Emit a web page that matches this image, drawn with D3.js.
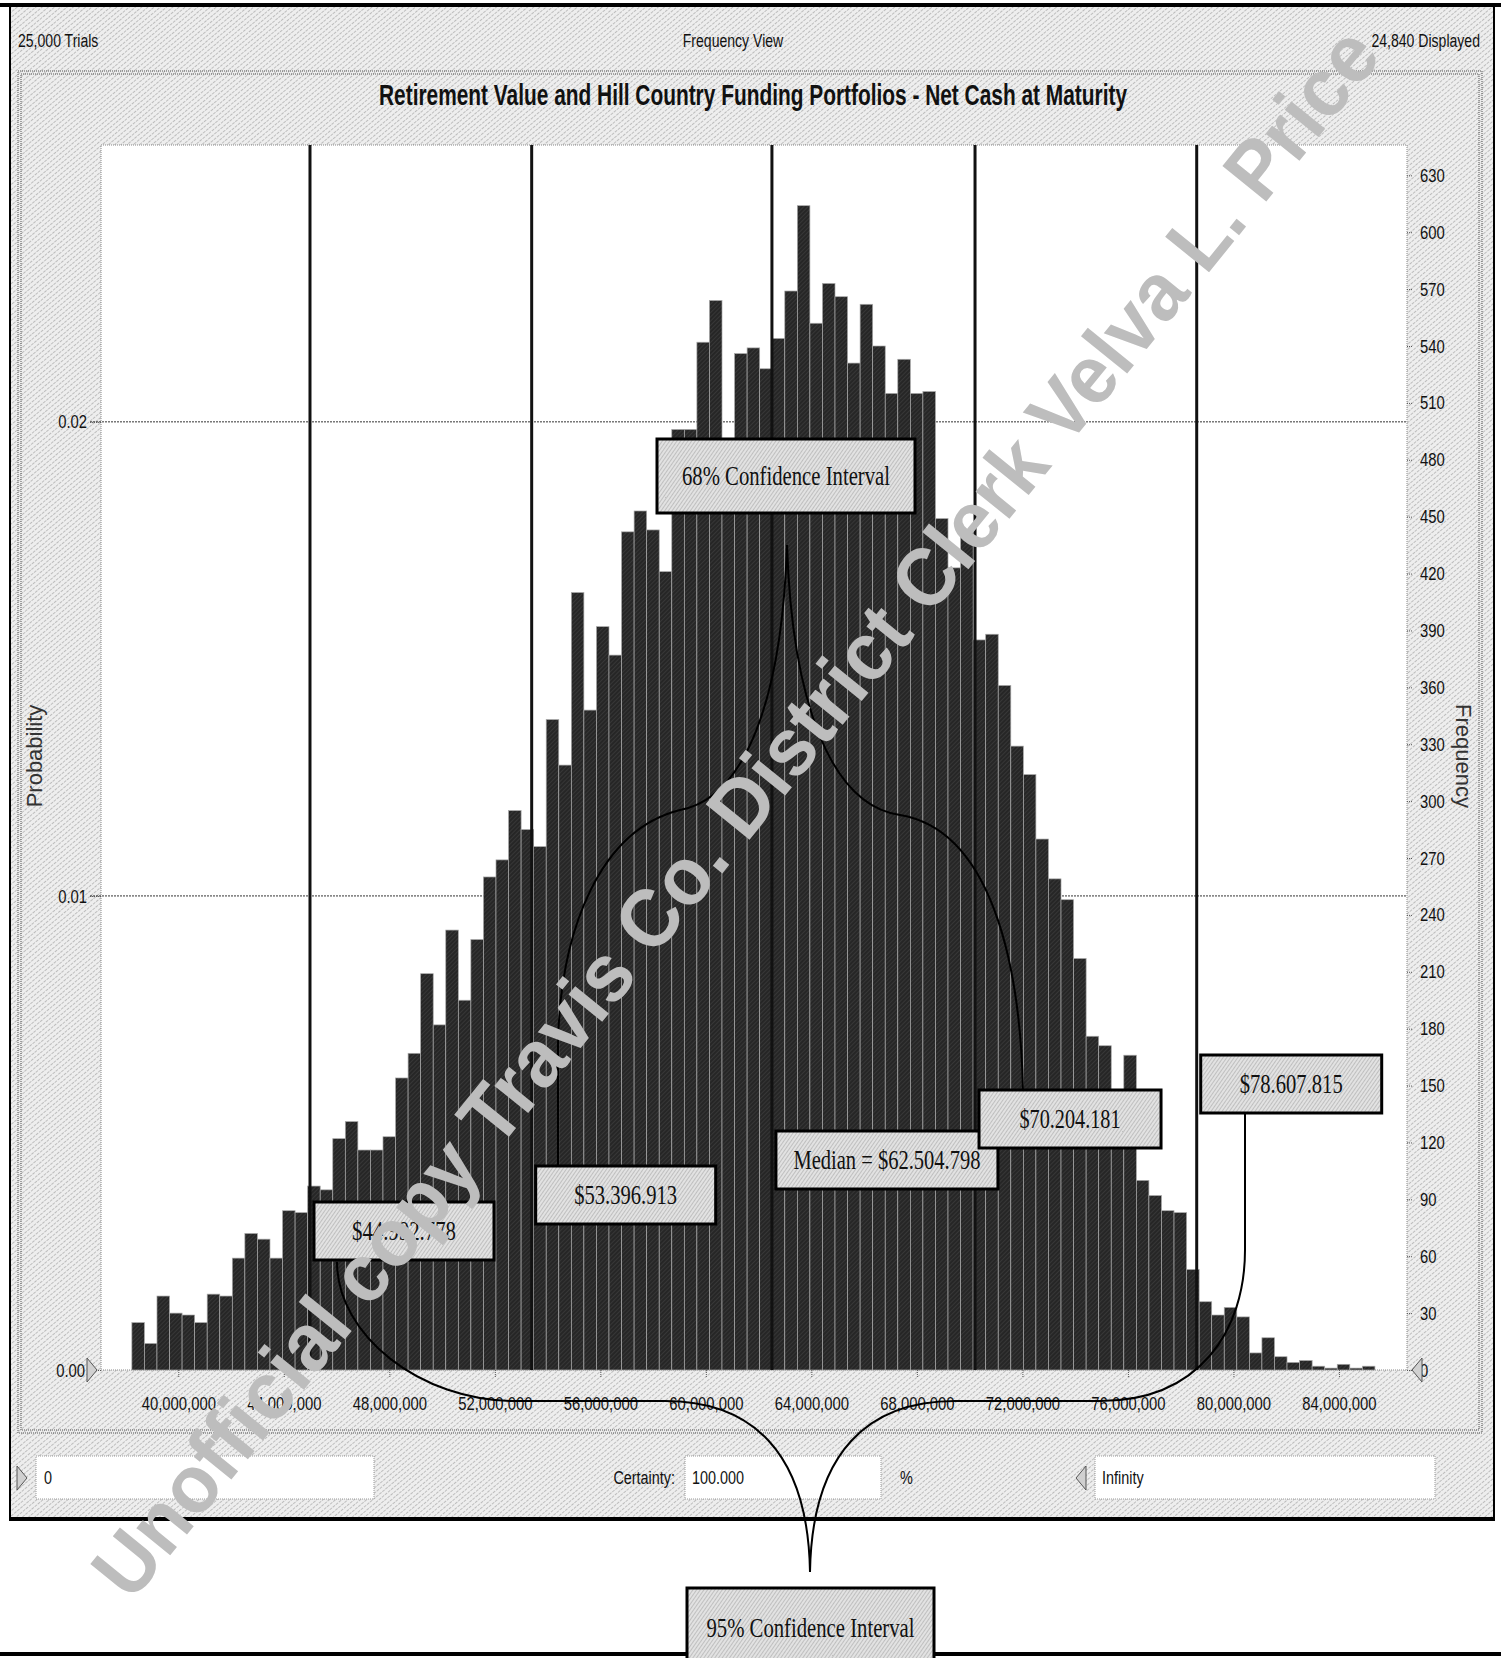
<!DOCTYPE html>
<html>
<head>
<meta charset="utf-8">
<script src="https://cdn.jsdelivr.net/npm/d3@7"></script>
<style>
body { margin: 0; background: #fff; }
svg { display: block; }
</style>
</head>
<body>
<svg id="chart" width="1501" height="1658"></svg>
<script>
// simulation summary
var trials = 25000;
var displayed = 24840;

// histogram bins (dollars), counts
var binStart = 38240000;
var binWidth = 476000;
var counts = [25, 14, 39, 30, 29, 25, 40, 39, 59, 72,
              69, 59, 84, 83, 97, 95, 122, 131, 116, 116,
              123, 154, 167, 209, 182, 232, 195, 227, 260, 269,
              295, 285, 276, 343, 319, 410, 348, 392, 377, 442,
              453, 443, 421, 496, 496, 542, 564, 490, 536, 539,
              528, 544, 569, 614, 552, 573, 566, 531, 562, 540,
              515, 533, 515, 516, 449, 423, 443, 385, 388, 361,
              329, 314, 280, 259, 248, 217, 176, 171, 140, 166,
              100, 92, 84, 83, 53, 36, 29, 33, 28, 9,
              17, 7, 4, 5, 2, 1, 3, 1, 2];

var xTicks = [40000000, 44000000, 48000000, 52000000, 56000000, 60000000,
              64000000, 68000000, 72000000, 76000000, 80000000, 84000000];
var freqTicks = [0, 30, 60, 90, 120, 150, 180, 210, 240, 270, 300, 330,
                 360, 390, 420, 450, 480, 510, 540, 570, 600, 630];
var probTicks = [0, 0.01, 0.02];

// percentile markers
var ciValues = [44992778, 53396913, 62504798, 70204181, 78607815];
var ciLabels = ["$44.992.778", "$53.396.913", "Median = $62.504.798", "$70.204.181", "$78.607.815"];

var svg = d3.select("#chart");
var W = 1501, H = 1658;
var plot = {left: 101, right: 1407, top: 145, bottom: 1370};

var x = d3.scaleLinear().domain([37070000, 86580000]).range([plot.left, plot.right]);
var y = d3.scaleLinear().domain([0, 646]).range([plot.bottom, plot.top]);
var yProb = d3.scaleLinear().domain([0, 646 / trials]).range([plot.bottom, plot.top]);

var SANS = "'Liberation Sans', Arial, sans-serif";
var SERIF = "'Liberation Serif', 'Times New Roman', serif";

// squeeze text to look like a narrow font
function squeeze(sel, f) {
    sel.each(function () {
        var w = this.getComputedTextLength();
        d3.select(this).attr("textLength", w * f).attr("lengthAdjust", "spacingAndGlyphs");
    });
}
function fitTo(sel, w) {
    sel.attr("textLength", w).attr("lengthAdjust", "spacingAndGlyphs");
}

// patterns
var defs = svg.append("defs");
var hatch = defs.append("pattern")
    .attr("id", "hatch").attr("width", 4).attr("height", 4)
    .attr("patternUnits", "userSpaceOnUse")
    .attr("patternTransform", "rotate(50)");
hatch.append("rect").attr("width", 4).attr("height", 4).attr("fill", "#eeeeee");
hatch.append("line").attr("x1", 0).attr("y1", 0).attr("x2", 0).attr("y2", 4)
    .attr("stroke", "#8c8c8c").attr("stroke-width", 1).attr("stroke-dasharray", "2,1");

var boxHatch = defs.append("pattern")
    .attr("id", "boxhatch").attr("width", 3).attr("height", 3)
    .attr("patternUnits", "userSpaceOnUse")
    .attr("patternTransform", "rotate(35)");
boxHatch.append("rect").attr("width", 3).attr("height", 3).attr("fill", "#e2e2e2");
boxHatch.append("line").attr("x1", 0).attr("y1", 0).attr("x2", 0).attr("y2", 3)
    .attr("stroke", "#959595").attr("stroke-width", 0.9);

var barHatch = defs.append("pattern")
    .attr("id", "barhatch").attr("width", 3).attr("height", 3)
    .attr("patternUnits", "userSpaceOnUse")
    .attr("patternTransform", "rotate(45)");
barHatch.append("rect").attr("width", 3).attr("height", 3).attr("fill", "#262626");
barHatch.append("line").attr("x1", 0).attr("y1", 0).attr("x2", 0).attr("y2", 3)
    .attr("stroke", "#505050").attr("stroke-width", 0.8);

// page + window
svg.append("rect").attr("width", W).attr("height", H).attr("fill", "#fff");
svg.append("rect").attr("x", 10).attr("y", 5).attr("width", 1484).attr("height", 1514)
    .attr("fill", "url(#hatch)");
svg.append("line").attr("x1", 0).attr("x2", W).attr("y1", 5).attr("y2", 5)
    .attr("stroke", "#000").attr("stroke-width", 4);
svg.append("line").attr("x1", 10).attr("x2", 10).attr("y1", 5).attr("y2", 1520)
    .attr("stroke", "#000").attr("stroke-width", 2);
svg.append("line").attr("x1", 1494).attr("x2", 1494).attr("y1", 5).attr("y2", 1520)
    .attr("stroke", "#000").attr("stroke-width", 2);
svg.append("line").attr("x1", 9).attr("x2", 1495).attr("y1", 1519).attr("y2", 1519)
    .attr("stroke", "#000").attr("stroke-width", 4);
svg.append("line").attr("x1", 0).attr("x2", W).attr("y1", 1654).attr("y2", 1654)
    .attr("stroke", "#000").attr("stroke-width", 4);

// header
var header = svg.append("g").attr("font-family", SANS).attr("font-size", 18).attr("fill", "#111");
header.append("text").attr("x", 18).attr("y", 47).text(d3.format(",")(trials) + " Trials").call(squeeze, 0.78);
header.append("text").attr("x", 733).attr("y", 47).attr("text-anchor", "middle").text("Frequency View").call(squeeze, 0.78);
header.append("text").attr("x", 1480).attr("y", 47).attr("text-anchor", "end").text(d3.format(",")(displayed) + " Displayed").call(squeeze, 0.78);

// chart panel border (double dotted)
[0, 3].forEach(function (o) {
    svg.append("rect").attr("x", 18 + o).attr("y", 71 + o)
        .attr("width", 1464 - 2 * o).attr("height", 1362 - 2 * o)
        .attr("fill", "none").attr("stroke", "#555").attr("stroke-width", 1)
        .attr("stroke-dasharray", "1,1");
});

// title
svg.append("text")
    .attr("x", 753).attr("y", 95).attr("dy", "0.35em")
    .attr("text-anchor", "middle")
    .attr("font-family", SANS).attr("font-weight", "bold").attr("font-size", 29)
    .attr("fill", "#111")
    .text("Retirement Value and Hill Country Funding Portfolios - Net Cash at Maturity")
    .call(fitTo, 748);

// plot area
svg.append("rect").attr("x", plot.left).attr("y", plot.top)
    .attr("width", plot.right - plot.left).attr("height", plot.bottom - plot.top)
    .attr("fill", "#fff").attr("stroke", "#888").attr("stroke-dasharray", "1,1");

// probability gridlines
svg.append("g").selectAll("line")
    .data(probTicks.filter(function (d) { return d > 0; }))
    .enter().append("line")
    .attr("x1", plot.left - 11).attr("x2", plot.right)
    .attr("y1", function (d) { return yProb(d); })
    .attr("y2", function (d) { return yProb(d); })
    .attr("stroke", "#333").attr("stroke-width", 1).attr("stroke-dasharray", "2,1");

// bars
svg.append("g").selectAll("rect")
    .data(counts)
    .enter().append("rect")
    .attr("x", function (d, i) { return x(binStart + i * binWidth); })
    .attr("width", function (d, i) { return x(binStart + (i + 1) * binWidth) - x(binStart + i * binWidth); })
    .attr("y", function (d) { return y(d); })
    .attr("height", function (d) { return y(0) - y(d); })
    .attr("fill", "url(#barhatch)")
    .attr("stroke", "#a8a8a8").attr("stroke-width", 0.7);

// percentile lines
svg.append("g").selectAll("line")
    .data(ciValues)
    .enter().append("line")
    .attr("x1", function (d) { return x(d); })
    .attr("x2", function (d) { return x(d); })
    .attr("y1", plot.top).attr("y2", plot.bottom)
    .attr("stroke", "#111").attr("stroke-width", 3);

// axes
var xAxis = svg.append("g")
    .attr("transform", "translate(0," + plot.bottom + ")")
    .call(d3.axisBottom(x).tickValues(xTicks).tickFormat(d3.format(",")).tickSize(7).tickPadding(20));
var rAxis = svg.append("g")
    .attr("transform", "translate(" + plot.right + ",0)")
    .call(d3.axisRight(y).tickValues(freqTicks).tickSize(6).tickPadding(7));
var lAxis = svg.append("g")
    .attr("transform", "translate(" + plot.left + ",0)")
    .call(d3.axisLeft(yProb).tickValues(probTicks).tickFormat(d3.format(".2f")).tickSize(11).tickPadding(3));

[xAxis, rAxis, lAxis].forEach(function (a) {
    a.select(".domain").remove();
    a.selectAll(".tick line").attr("stroke", "#555").attr("stroke-dasharray", "1,1");
    a.selectAll(".tick text").attr("font-family", SANS).attr("font-size", 19).attr("fill", "#111")
        .call(squeeze, 0.78);
});
lAxis.selectAll(".tick text").filter(function (d) { return d === 0; }).attr("x", -16);

// arrows at the axis ends and control row
function tri(cx, cy, dir) {
    var s = 10 * dir;
    svg.append("path")
        .attr("d", "M" + (cx - s / 2) + "," + (cy - 12) + "L" + (cx + s / 2) + "," + cy + "L" + (cx - s / 2) + "," + (cy + 12) + "Z")
        .attr("fill", "#d0d0d0").attr("stroke", "#555").attr("stroke-width", 1);
}
tri(92, plot.bottom, 1);
tri(1417, plot.bottom, -1);
tri(22, 1478, 1);
tri(1081, 1478, -1);

// axis titles
svg.append("text")
    .attr("transform", "translate(42,756) rotate(-90)")
    .attr("text-anchor", "middle").attr("font-family", SANS).attr("font-size", 22)
    .attr("fill", "#333").text("Probability");
svg.append("text")
    .attr("transform", "translate(1456,756) rotate(90)")
    .attr("text-anchor", "middle").attr("font-family", SANS).attr("font-size", 22)
    .attr("fill", "#333").text("Frequency");

// control row
var ctrl = svg.append("g").attr("font-family", SANS).attr("font-size", 18).attr("fill", "#111");
[[36, 338], [685, 196], [1095, 340]].forEach(function (b) {
    ctrl.append("rect").attr("x", b[0]).attr("y", 1456).attr("width", b[1]).attr("height", 43)
        .attr("fill", "#fff").attr("stroke", "#999").attr("stroke-dasharray", "1,1");
});
ctrl.append("text").attr("x", 44).attr("y", 1478).attr("dy", "0.35em").text("0").call(squeeze, 0.8);
ctrl.append("text").attr("x", 675).attr("y", 1478).attr("dy", "0.35em").attr("text-anchor", "end").text("Certainty:").call(squeeze, 0.8);
ctrl.append("text").attr("x", 692).attr("y", 1478).attr("dy", "0.35em").text("100.000").call(squeeze, 0.8);
ctrl.append("text").attr("x", 900).attr("y", 1478).attr("dy", "0.35em").text("%").call(squeeze, 0.8);
ctrl.append("text").attr("x", 1102).attr("y", 1478).attr("dy", "0.35em").text("Infinity").call(squeeze, 0.8);

// brace connectors
function brace(pts) {
    var p = d3.path();
    p.moveTo(pts[0][0], pts[0][1]);
    for (var i = 1; i < pts.length; i++) {
        var s = pts[i];
        if (s.length === 2) p.lineTo(s[0], s[1]);
        else p.bezierCurveTo(s[0], s[1], s[2], s[3], s[4], s[5]);
    }
    svg.append("path").attr("d", p.toString())
        .attr("fill", "none").attr("stroke", "#000").attr("stroke-width", 2);
}
// 95% interval
brace([[337, 1262], [337, 1335, 420, 1401, 515, 1401], [665, 1401], [750, 1401, 808, 1450, 810, 1572]]);
brace([[810, 1572], [812, 1450, 870, 1401, 955, 1401], [1100, 1401], [1200, 1401, 1245, 1330, 1245, 1250], [1245, 1114]]);
// 68% interval
brace([[558, 1166], [558, 1045], [560, 930, 600, 830, 680, 810], [745, 798, 782, 700, 787, 545]]);
brace([[787, 545], [792, 700, 830, 805, 900, 815], [990, 830, 1020, 960, 1023, 1090]]);

// label boxes
function labelBox(x0, y0, w, h, txt, tw) {
    var g = svg.append("g");
    g.append("rect").attr("x", x0).attr("y", y0).attr("width", w).attr("height", h)
        .attr("fill", "url(#boxhatch)").attr("stroke", "#000").attr("stroke-width", 3);
    g.append("text").attr("x", x0 + w / 2).attr("y", y0 + h / 2).attr("dy", "0.35em")
        .attr("text-anchor", "middle").attr("font-family", SERIF).attr("font-size", 27)
        .attr("fill", "#111").text(txt).call(fitTo, tw);
}
var boxY = [1202, 1166, 1131, 1090, 1055];
var boxW = [180, 180, 222, 182, 181];
var textW = [104, 103, 187, 101, 103];
ciValues.forEach(function (v, i) {
    labelBox(x(v) + 4, boxY[i], boxW[i], 58, ciLabels[i], textW[i]);
});
labelBox(657, 439, 258, 74, "68% Confidence Interval", 208);
labelBox(687, 1588, 247, 80, "95% Confidence Interval", 208);

// watermark
svg.append("text")
    .attr("transform", "translate(735,812) rotate(-51)")
    .attr("text-anchor", "middle").attr("dy", "0.35em")
    .attr("font-family", SANS).attr("font-weight", "bold").attr("font-size", 82)
    .attr("fill", "#bdbdbd")
    .text("Unofficial copy Travis Co. District Clerk Velva L. Price")
    .call(fitTo, 1990);
</script>
</body>
</html>
